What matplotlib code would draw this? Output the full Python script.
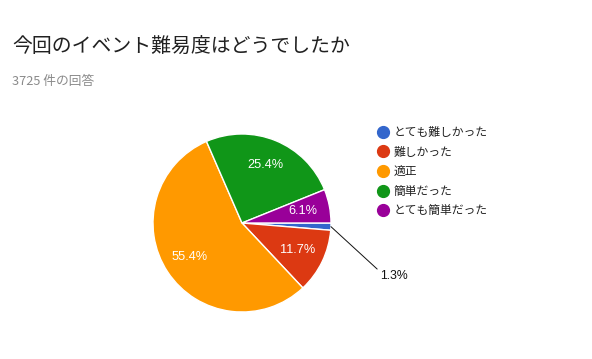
import matplotlib
matplotlib.use("Agg")
import matplotlib.pyplot as plt
from matplotlib.lines import Line2D
import numpy as np

plt.rcParams['font.family'] = ['Liberation Sans', 'Noto Sans CJK JP', 'DejaVu Sans']

title = "今回のイベント難易度はどうでしたか"
subtitle = "3725 件の回答"
categories = ["とても難しかった", "難しかった", "適正", "簡単だった", "とても簡単だった"]
values = [1.3, 11.7, 55.4, 25.4, 6.1]
colors = ["#3366cc", "#dc3912", "#ff9900", "#109618", "#990099"]

W, H = 592, 359
fig = plt.figure(figsize=(W / 100, H / 100), dpi=100)
fig.patch.set_facecolor("white")

cx, cy, r = 242, 223, 89
ax = fig.add_axes([(cx - r) / W, (H - cy - r) / H, 2 * r / W, 2 * r / H])
wedges, texts = ax.pie(
    values, colors=colors, startangle=0, counterclock=False,
    wedgeprops=dict(edgecolor="white", linewidth=1.0),
)
ax.set_xlim(-1, 1)
ax.set_ylim(-1, 1)
ax.set_aspect("equal")
ax.axis("off")

small = 0
for i, (w, v) in enumerate(zip(wedges, values)):
    ang = np.deg2rad((w.theta1 + w.theta2) / 2)
    if i == small:
        ax.annotate(f"{v:.1f}%", xy=(np.cos(ang), np.sin(ang)),
                    xytext=(1.55, -0.6), textcoords="data",
                    fontsize=8.8, color="#111111", va="center", ha="left",
                    arrowprops=dict(arrowstyle="-", color="#111111", lw=0.7,
                                    shrinkA=0, shrinkB=0, relpos=(0, 0.9)),
                    annotation_clip=False)
    else:
        d = 0.7
        ax.text(d * np.cos(ang), d * np.sin(ang), f"{v:.1f}%",
                color="white", fontsize=9.2, ha="center", va="center")

fig.text(12 / W, 1 - 47 / H, title, fontsize=14.3, color="#212121",
         va="center", ha="left", family=['Noto Sans CJK JP'])
fig.text(12 / W, 1 - 82 / H, subtitle, fontsize=9.2, color="#8a8a8a",
         va="center", ha="left", family=['Noto Sans CJK JP'])

handles = [Line2D([0], [0], marker="o", linestyle="", markersize=8.5,
                  markerfacecolor=c, markeredgecolor=c) for c in colors]
leg = fig.legend(handles, categories, loc="upper left",
                 bbox_to_anchor=(378 / W, 1 - 126 / H), frameon=False,
                 prop=dict(family=['Noto Sans CJK JP'], size=8.5),
                 handlelength=0.8, handletextpad=0.5, labelspacing=0.56,
                 borderaxespad=0, borderpad=0)
for t in leg.get_texts():
    t.set_color("#222222")

fig.savefig("out.png", dpi=100, facecolor="white")
